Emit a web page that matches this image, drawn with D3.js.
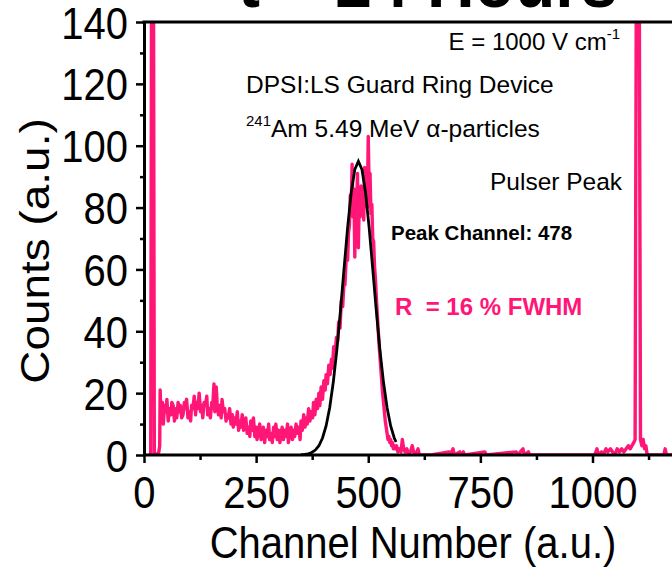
<!DOCTYPE html>
<html><head><meta charset="utf-8">
<script src="https://cdn.jsdelivr.net/npm/d3@7"></script>
<style>
body{margin:0;background:#fff}
svg{display:block}
text{font-family:"Liberation Sans",Arial,Helvetica,sans-serif;fill:#000}
</style>
</head><body>
<svg id="c" width="672" height="567"></svg>
<script>
// ---- data ----
const specChannels = [10,15,17,21,23,28,33,35,36,38,41,43,46,49,51,54,57,60,62,65,68,70,73,76,79,81,84,87,90,92,95,98,101,104,106,109,112,115,117,120,123,126,129,131,134,137,140,142,145,148,151,153,156,158,161,163,166,169,172,174,177,180,183,185,188,191,194,197,199,202,205,208,211,213,216,219,222,224,227,230,233,236,238,241,244,247,250,252,255,258,261,264,266,269,272,275,278,280,283,286,289,292,294,297,300,303,306,308,311,314,317,320,322,325,328,331,334,336,339,342,345,348,350,353,356,359,362,364,367,370,373,376,378,381,384,387,390,392,395,398,401,404,406,409,412,415,418,420,423,426,429,432,434,437,440,443,446,448,451,454,456,458,460,462,464,466,468,470,472,474,476,478,480,482,484,486,488,490,492,494,496,498,500,502,504,506,508,510,512,514,516,518,520,522,524,526,528,530,532,534,536,538,540,542,544,546,548,550,552,554,556,558,560,563,566,569,573,576,579,582,586,590,594,598,601,605,611,614,640,680,683,689,692,704,707,712,715,760,763,830,833,845,848,857,860,1005,1010,1013,1020,1024,1030,1034,1040,1045,1050,1055,1060,1065,1070,1075,1080,1084,1088,1092,1095,1098,1104,1107,1110,1113,1116,1119,1122,1159,1162,1165,1185];
const specCounts = [0,0,170,170,0,0,1,3,21,12,17,10,16,14,18,11,15,13,17,16,11,15,12,17,14,16,12,13,17,15,18,12,14,11,16,15,19,13,17,15,20,14,16,12,17,16,19,13,15,12,17,15,23,14,22,17,13,16,12,18,14,15,11,13,12,15,10,13,9,12,10,14,8,11,9,13,8,10,12,7,9,6,11,8,12,6,9,5,8,10,5,7,9,4,8,6,10,5,7,4,9,6,10,5,8,4,7,9,5,8,6,10,4,7,9,5,8,6,10,7,9,5,11,8,13,9,12,10,15,11,14,12,17,13,18,15,20,16,22,18,24,21,26,23,29,26,31,28,35,32,38,37,43,41,50,48,56,55,64,63,72,74,84,79,94,77,86,64,84,78,91,67,83,77,87,79,84,76,93,81,88,80,103,86,91,78,81,70,69,61,57,51,46,41,36,32,28,24,20,17,14,11,9,7,5,6,4,5,3,4,2,3,2,3,1,2,1,5,2,1,2,0,1,3,1,0,2,0,0,1,0,2,0,1,0,1,0,1,0,1,0,2,0,1,0,0,2,0,1,0,2,1,2,1,0,2,1,2,1,2,3,2,3,4,5,170,170,5,3,5,2,3,0,0,2,0,0];
const fitChannels = [350,358,366,374,382,390,398,406,414,422,430,438,446,454,462,470,478,486,494,502,510,518,526,534,542,550,558,562];
const fitCounts   = [0.1,0.2,0.4,0.8,1.6,3.0,5.5,9.4,15.3,23.5,34.0,46.6,60.2,73.5,84.8,92.3,95.0,92.3,84.8,73.5,60.2,46.6,34.0,23.5,15.3,9.4,5.5,4.2];
const xMajorTicks = [0,250,500,750,1000];
const xMinorTicks = [125,375,625,875,1125];
const yMajorTicks = [0,20,40,60,80,100,120,140];
const yMinorTicks = [10,30,50,70,90,110,130];
const labels = {
  title: "t = 24 Hours",
  field: "E = 1000 V cm",
  device: "DPSI:LS Guard Ring Device",
  source: "Am 5.49 MeV \u03b1-particles",
  pulser: "Pulser Peak",
  peak: "Peak Channel: 478",
  res: "R  = 16 % FWHM",
  xTitle: "Channel Number (a.u.)",
  yTitle: "Counts (a.u.)"
};

// ---- layout ----
const pink = "#ff1677";
const L = 144, T = 22, B = 455, W = 672;
const SY = 1.12; // vertical stretch seen in the source text
const svg = d3.select("#c");
const x = d3.scaleLinear().domain([0,1000]).range([L,592.5]);
const y = d3.scaleLinear().domain([0,140]).range([B,T]);

svg.append("defs").append("clipPath").attr("id","clip")
  .append("rect").attr("x",L).attr("y",T).attr("width",W-L).attr("height",B-T);

// title (cut off at top, as in the source)
svg.append("text").attr("transform",`translate(238,7) scale(1,${SY})`)
  .attr("font-size",66).attr("font-weight","bold").text(labels.title);

// data
const spec = specChannels.map((c,i)=>[c,specCounts[i]]);
const fit = fitChannels.map((c,i)=>[c,fitCounts[i]]);
const line = d3.line().x(d=>x(d[0])).y(d=>y(d[1]));
const g = svg.append("g").attr("clip-path","url(#clip)");
g.append("path").datum(spec).attr("d",line).attr("fill","none")
  .attr("stroke",pink).attr("stroke-width",3.4).attr("stroke-linejoin","round");
g.append("path").datum(fit).attr("d",line).attr("fill","none")
  .attr("stroke","#000").attr("stroke-width",2.8);

// axes
function styleAxis(sel){
  sel.select(".domain").attr("stroke","#000").attr("stroke-width",3);
  sel.selectAll(".tick line").attr("stroke","#000").attr("stroke-width",2.5);
}
const fmt = d3.format("d");
const xAxisMinor = svg.append("g").attr("transform",`translate(0,${B})`)
  .call(d3.axisBottom(x).tickValues(xMinorTicks).tickSize(5).tickSizeOuter(0).tickFormat(""));
xAxisMinor.select(".domain").remove();
styleAxis(xAxisMinor);
const xAxis = svg.append("g").attr("transform",`translate(0,${B})`)
  .call(d3.axisBottom(x).tickValues(xMajorTicks).tickSize(8).tickSizeOuter(0).tickFormat(fmt));
xAxis.select(".domain").attr("d",`M${L},0H${W}`);
styleAxis(xAxis);
xAxis.selectAll(".tick text").attr("font-size",40).attr("y",47).attr("dy",0)
  .attr("transform",`scale(1,${SY})`).style("font-family",'"Liberation Sans",Arial,sans-serif');

const yAxisMinor = svg.append("g").attr("transform",`translate(${L},0)`)
  .call(d3.axisLeft(y).tickValues(yMinorTicks).tickSize(4).tickSizeOuter(0).tickFormat(""));
yAxisMinor.select(".domain").remove();
styleAxis(yAxisMinor);
const yAxis = svg.append("g").attr("transform",`translate(${L},0)`)
  .call(d3.axisLeft(y).tickValues(yMajorTicks).tickSize(8).tickSizeOuter(0).tickFormat(fmt));
styleAxis(yAxis);
yAxis.selectAll(".tick text").attr("font-size",40).attr("x",-16).attr("dy","0.36em")
  .attr("transform",`scale(1,${SY})`).style("font-family",'"Liberation Sans",Arial,sans-serif');

// top frame
svg.append("line").attr("x1",L-1.5).attr("x2",W).attr("y1",T).attr("y2",T)
  .attr("stroke","#000").attr("stroke-width",3);

// axis titles
svg.append("text").attr("transform",`translate(413,558) scale(1,${SY})`)
  .attr("text-anchor","middle").attr("font-size",40).text(labels.xTitle);
svg.append("text").attr("transform",`translate(49,251) scale(1,${SY}) rotate(-90)`)
  .attr("text-anchor","middle").attr("font-size",41).text(labels.yTitle);

// annotations
const f = svg.append("text").attr("x",620).attr("y",50).attr("text-anchor","end").attr("font-size",24);
f.append("tspan").text(labels.field);
f.append("tspan").attr("font-size",15).attr("dy",-11).text("-1");

svg.append("text").attr("x",246).attr("y",93).attr("font-size",24.5).text(labels.device);
const s = svg.append("text").attr("x",246).attr("y",137).attr("font-size",24.5);
s.append("tspan").attr("font-size",15).attr("dy",-11).text("241");
s.append("tspan").attr("dy",11).text(labels.source);
svg.append("text").attr("x",490).attr("y",190).attr("font-size",24.5).text(labels.pulser);
svg.append("text").attr("x",391).attr("y",240).attr("font-size",20.5).attr("font-weight","bold").text(labels.peak);
svg.append("text").attr("x",395).attr("y",315).attr("font-size",24).attr("font-weight","bold")
  .attr("fill",pink).style("fill",pink).attr("xml:space","preserve").style("white-space","pre").text(labels.res);
</script>
</body></html>
